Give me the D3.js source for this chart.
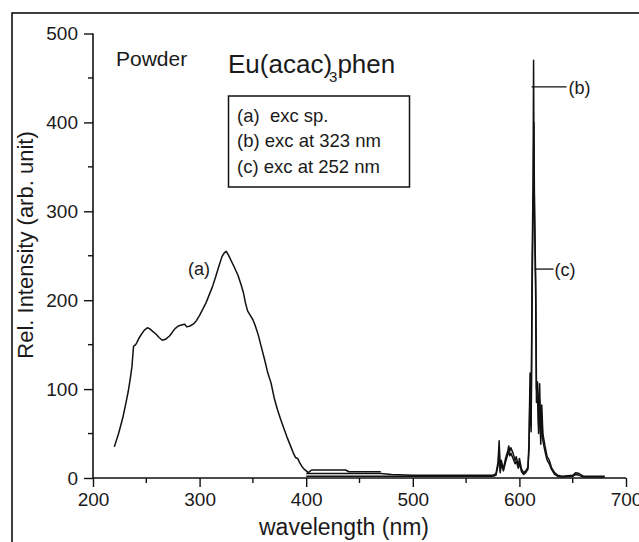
<!DOCTYPE html>
<html>
<head>
<meta charset="utf-8">
<script src="https://cdn.jsdelivr.net/npm/d3@7"></script>
<style>
  html, body { margin: 0; padding: 0; background: #fff; }
  svg text { font-family: "Liberation Sans", Arial, sans-serif; fill: #1a1a1a; }
</style>
</head>
<body>
<svg id="chart" width="639" height="542"></svg>
<script>
// Excitation spectrum (a), monitored at the Eu3+ red line
const excWavelength = [220,224,228,231,233,235,236.5,237.5,238,240,241,243,245.6,248,251,253,256,259,262,265,268,272,275,277,280,283,286,288,291,294,297,300,303,306,309,312,315,318,321,323,325,327,329,331,333,336,339,341,343,345,348,350,352,355,358,361,364,367,370,373,376,379,382,385,388,390,392,394,396,398,400,402,405,410,420,430,437,440,450,460,470];
const excIntensity  = [35,50,68,85,97,112,125,140,148,150,152,157,162,166,169,168,165,162,158,155,156,160,165,168,171,172,173,170,171,173,177,183,190,197,206,215,226,238,249,253,255,251,246,241,236,228,217,209,197,188,182,178,172,161,147,133,118,107,90,77,66,56,46,37,28,23,22,17,13,10,8,6,9,9,9,9,9,7,7,7,7,6];

// Emission spectrum (b), excitation at 323 nm
const em323Wavelength = [400,420,450,470,480,500,520,540,560,575,578,580,581,582,583,585,587,589,590,591,592,594,596,597,599,600,602,604,606,608,609,610,611,612,612.8,613.3,613.8,615.3,616,617,618,619,620,621,622,624,626,628,630,633,636,640,650,653,656,660,670,680];
const em323Intensity  = [5,5,5,5,4,3,3,3,3,3,5,18,42,8,20,10,22,30,36,30,34,28,20,24,14,22,10,6,8,12,40,118,60,250,330,470,330,220,100,108,60,106,45,82,50,36,24,20,12,6,3,2,3,6,5,2,2,2];

// Emission spectrum (c), excitation at 252 nm
const em252Wavelength = [400,420,450,470,480,500,520,540,560,575,578,580,581,582,583,585,587,589,590,591,592,594,596,597,599,600,602,604,606,608,609,610,611,612,612.8,613.6,614.2,615.3,616,617,618,619,620,621,622,624,626,628,630,633,636,640,650,653,656,660,670,680];
const em252Intensity  = [2,2,2,2,2,2,2,2,2,2,3,14,34,6,16,8,18,26,30,25,28,22,16,19,11,17,7,4,6,10,32,100,52,220,290,400,300,200,85,92,50,88,38,70,42,30,20,16,10,4,2,1,2,4,3,1,1,1];

const xTicks = [200,300,400,500,600,700];
const yTicks = [0,100,200,300,400,500];
const xMinor = [250,350,450,550,650];
const yMinor = [50,150,250,350,450];

const legendLines = ["(a)\u00a0 exc sp.", "(b) exc at 323 nm", "(c) exc at 252 nm"];

const svg = d3.select("#chart");
const x = d3.scaleLinear().domain([200, 700]).range([93, 626]);
const y = d3.scaleLinear().domain([0, 500]).range([478, 33.5]);

// outer frame
svg.append("rect")
  .attr("x", 12).attr("y", 13).attr("width", 700).attr("height", 600)
  .attr("fill", "none").attr("stroke", "#111").attr("stroke-width", 1.6);

// axes
const xAxis = d3.axisBottom(x).tickValues(xTicks).tickSize(9).tickPadding(6).tickFormat(d3.format("d"));
const yAxis = d3.axisLeft(y).tickValues(yTicks).tickSize(9).tickPadding(6).tickFormat(d3.format("d"));

const gx = svg.append("g").attr("transform", `translate(0,${y(0)})`).call(xAxis);
const gy = svg.append("g").attr("transform", `translate(${x(200)},0)`).call(yAxis);
[gx, gy].forEach(g => {
  g.select(".domain").attr("stroke", "#111").attr("stroke-width", 1.6);
  g.selectAll(".tick line").attr("stroke", "#111").attr("stroke-width", 1.4);
  g.selectAll(".tick text").attr("font-size", 19).attr("fill", "#1a1a1a")
    .style("font-family", '"Liberation Sans", Arial, sans-serif');
});
gx.select(".domain").attr("d", `M${x(200)},0H${x(700)}`);
gy.select(".domain").attr("d", `M0,${y(0)}V${y(500)}`);

svg.append("g").selectAll("line").data(xMinor).join("line")
  .attr("x1", d => x(d)).attr("x2", d => x(d))
  .attr("y1", y(0)).attr("y2", y(0) + 5)
  .attr("stroke", "#111").attr("stroke-width", 1.4);
svg.append("g").selectAll("line").data(yMinor).join("line")
  .attr("y1", d => y(d)).attr("y2", d => y(d))
  .attr("x1", x(200)).attr("x2", x(200) - 5)
  .attr("stroke", "#111").attr("stroke-width", 1.4);

// axis titles
svg.append("text").attr("x", 344).attr("y", 535).attr("text-anchor", "middle")
  .attr("font-size", 23).text("wavelength (nm)");
svg.append("text").attr("transform", "translate(33,245) rotate(-90)")
  .attr("text-anchor", "middle").attr("font-size", 22).text("Rel. Intensity (arb. unit)");

// spectra
const line = d3.line().x(d => x(d[0])).y(d => y(d[1]));
const series = [
  [excWavelength, excIntensity],
  [em323Wavelength, em323Intensity],
  [em252Wavelength, em252Intensity]
];
svg.append("g").selectAll("path").data(series).join("path")
  .attr("d", s => line(s[0].map((w, i) => [w, s[1][i]])))
  .attr("fill", "none").attr("stroke", "#111").attr("stroke-width", 1.5)
  .attr("stroke-linejoin", "round");

// sample and compound labels
svg.append("text").attr("x", 116).attr("y", 66).attr("font-size", 21).text("Powder");
const title = svg.append("text").attr("x", 228).attr("y", 73).attr("font-size", 26);
title.append("tspan").text("Eu(acac)");
title.append("tspan").attr("dx", -3).attr("dy", 9).attr("font-size", 15).text("3");
title.append("tspan").attr("dy", -9).text("phen");

// legend
svg.append("rect").attr("x", 228.5).attr("y", 96).attr("width", 181).attr("height", 91)
  .attr("fill", "none").attr("stroke", "#111").attr("stroke-width", 1.5);
svg.append("g").selectAll("text").data(legendLines).join("text")
  .attr("x", 237).attr("y", (d, i) => 122 + i * 25.3)
  .attr("font-size", 18.5).text(d => d);

// curve labels
svg.append("text").attr("x", 188).attr("y", 275).attr("font-size", 18).text("(a)");
const bPeak = 613.3, cPeak = 614.2;
svg.append("line").attr("x1", x(bPeak) - 2).attr("x2", x(bPeak) + 33)
  .attr("y1", y(440)).attr("y2", y(440)).attr("stroke", "#111").attr("stroke-width", 1.3);
svg.append("text").attr("x", x(bPeak) + 35).attr("y", y(440) + 7).attr("font-size", 18).text("(b)");
svg.append("line").attr("x1", x(cPeak)).attr("x2", x(cPeak) + 19)
  .attr("y1", y(235)).attr("y2", y(235)).attr("stroke", "#111").attr("stroke-width", 1.3);
svg.append("text").attr("x", x(cPeak) + 20).attr("y", y(235) + 7).attr("font-size", 18).text("(c)");
</script>
</body>
</html>
